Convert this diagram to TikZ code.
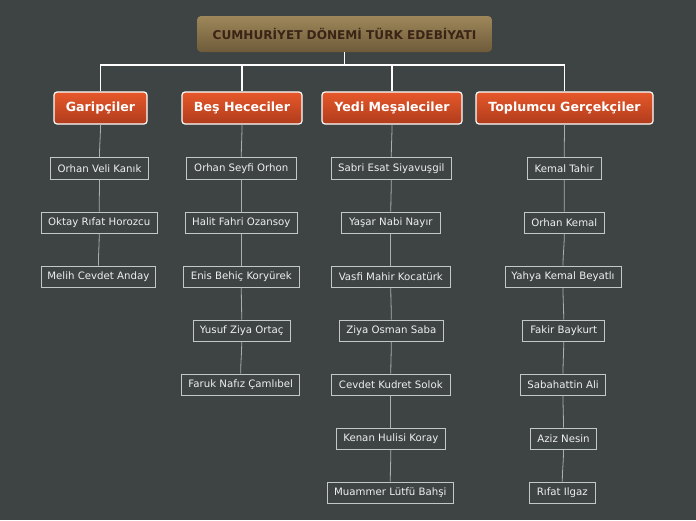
\documentclass[tikz,border=0pt]{standalone}
\usepackage{fontspec}
\setmainfont{DejaVu Sans}
\definecolor{bgc}{RGB}{62,67,68}
\definecolor{roottop}{RGB}{158,135,90}
\definecolor{rootbot}{RGB}{110,91,58}
\definecolor{roottext}{RGB}{58,36,22}
\definecolor{cattop}{RGB}{230,88,42}
\definecolor{catbot}{RGB}{176,60,29}
\definecolor{leafline}{RGB}{196,199,199}
\definecolor{conn}{RGB}{170,174,174}
\tikzset{
  rootbox/.style={rounded corners=4pt, top color=roottop, bottom color=rootbot, draw=none,
    minimum width=295pt, minimum height=36pt, inner sep=0pt, text=roottext,
    font=\fontsize{12.1}{14}\selectfont\bfseries},
  catbox/.style={rounded corners=3pt, top color=cattop, bottom color=catbot, draw=white,
    line width=1.2pt, minimum height=32pt, inner sep=0pt, text=white,
    font=\fontsize{12.6}{14}\selectfont\bfseries},
  leaf/.style={draw=leafline, fill=bgc, line width=0.9pt, minimum height=21.5pt, inner sep=0pt,
    text={rgb,255:red,240;green,240;blue,240}, font=\fontsize{10.2}{12}\selectfont},
  bus/.style={draw=white, line width=1.6pt},
  link/.style={draw=conn, line width=0.8pt},
}
\begin{document}
\begin{tikzpicture}[x=1pt,y=-1pt]
\fill[bgc] (0,0) rectangle (696,520);
\useasboundingbox (0,0) rectangle (696,520);

\node[rootbox] (root) at (344.5,34) {CUMHURİYET DÖNEMİ TÜRK EDEBİYATI};

\node[catbox, minimum width=93pt] (c1) at (100.5,108) {Garipçiler};
\node[catbox, minimum width=120pt] (c2) at (242,108) {Beş Hececiler};
\node[catbox, minimum width=140pt] (c3) at (392,108) {Yedi Meşaleciler};
\node[catbox, minimum width=177pt] (c4) at (564.5,108) {Toplumcu Gerçekçiler};

\foreach \c in {c1,c2,c3,c4}
  \draw[bus] (root.south) -- ++(0,12.5) -| (\c.north);

% Garipciler
\node[leaf, minimum width=97.5pt] (a1) at (99.5,168.3) {Orhan Veli Kanık};
\node[leaf, minimum width=116pt] (a2) at (99.2,222.7) {Oktay Rıfat Horozcu};
\node[leaf, minimum width=114.5pt] (a3) at (98.4,276.7) {Melih Cevdet Anday};
% Bes Hececiler
\node[leaf, minimum width=109.5pt] (b1) at (241.3,168.3) {Orhan Seyfi Orhon};
\node[leaf, minimum width=112pt] (b2) at (241.3,222.7) {Halit Fahri Ozansoy};
\node[leaf, minimum width=116pt] (b3) at (241.3,276.7) {Enis Behiç Koryürek};
\node[leaf, minimum width=97.5pt] (b4) at (241.7,330.7) {Yusuf Ziya Ortaç};
\node[leaf, minimum width=118pt] (b5) at (240.7,384.7) {Faruk Nafız Çamlıbel};
% Yedi Mesaleciler
\node[leaf, minimum width=120.5pt] (d1) at (391.3,168.3) {Sabri Esat Siyavuşgil};
\node[leaf, minimum width=98.5pt] (d2) at (390.8,222.7) {Yaşar Nabi Nayır};
\node[leaf, minimum width=118.5pt] (d3) at (390.8,276.7) {Vasfi Mahir Kocatürk};
\node[leaf, minimum width=104pt] (d4) at (391.3,330.7) {Ziya Osman Saba};
\node[leaf, minimum width=118.5pt] (d5) at (390.8,384.7) {Cevdet Kudret Solok};
\node[leaf, minimum width=109.5pt] (d6) at (390.8,438.9) {Kenan Hulisi Koray};
\node[leaf, minimum width=126pt] (d7) at (390.3,492.9) {Muammer Lütfü Bahşi};
% Toplumcu Gercekciler
\node[leaf, minimum width=74pt] (e1) at (564.2,168.3) {Kemal Tahir};
\node[leaf, minimum width=80pt] (e2) at (564.3,222.7) {Orhan Kemal};
\node[leaf, minimum width=116pt] (e3) at (563,276.7) {Yahya Kemal Beyatlı};
\node[leaf, minimum width=82pt] (e4) at (563.7,330.9) {Fakir Baykurt};
\node[leaf, minimum width=85pt] (e5) at (563,384.9) {Sabahattin Ali};
\node[leaf, minimum width=66.5pt] (e6) at (563.5,438.9) {Aziz Nesin};
\node[leaf, minimum width=66pt] (e7) at (562.3,492.9) {Rıfat Ilgaz};

\draw[link] (c1.south) to[out=-90,in=90] (a1.north);
\draw[link] (a1.south) to[out=-90,in=90] (a2.north);
\draw[link] (a2.south) to[out=-90,in=90] (a3.north);

\draw[link] (c2.south) to[out=-90,in=90] (b1.north);
\draw[link] (b1.south) to[out=-90,in=90] (b2.north);
\draw[link] (b2.south) to[out=-90,in=90] (b3.north);
\draw[link] (b3.south) to[out=-90,in=90] (b4.north);
\draw[link] (b4.south) to[out=-90,in=90] (b5.north);

\draw[link] (c3.south) to[out=-90,in=90] (d1.north);
\draw[link] (d1.south) to[out=-90,in=90] (d2.north);
\draw[link] (d2.south) to[out=-90,in=90] (d3.north);
\draw[link] (d3.south) to[out=-90,in=90] (d4.north);
\draw[link] (d4.south) to[out=-90,in=90] (d5.north);
\draw[link] (d5.south) to[out=-90,in=90] (d6.north);
\draw[link] (d6.south) to[out=-90,in=90] (d7.north);

\draw[link] (c4.south) to[out=-90,in=90] (e1.north);
\draw[link] (e1.south) to[out=-90,in=90] (e2.north);
\draw[link] (e2.south) to[out=-90,in=90] (e3.north);
\draw[link] (e3.south) to[out=-90,in=90] (e4.north);
\draw[link] (e4.south) to[out=-90,in=90] (e5.north);
\draw[link] (e5.south) to[out=-90,in=90] (e6.north);
\draw[link] (e6.south) to[out=-90,in=90] (e7.north);
\end{tikzpicture}
\end{document}
